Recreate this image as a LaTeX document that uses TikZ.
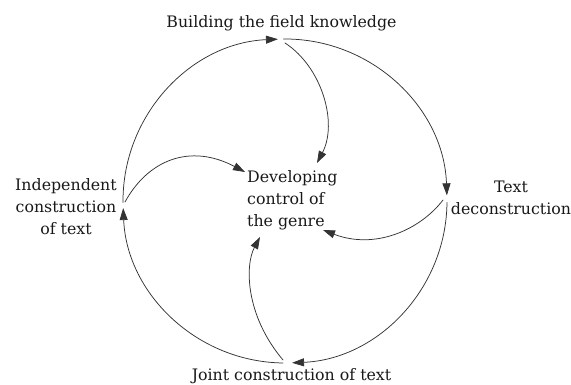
\documentclass[tikz,border=0pt]{standalone}
\usepackage{fontspec}
\setmainfont{DejaVu Serif}
\usetikzlibrary{arrows.meta}
\tikzset{lbl/.style={font=\fontsize{15.8}{22}\selectfont,inner sep=0pt,text=black!90}}

\begin{document}
\begin{tikzpicture}[line cap=round,line join=round,>={Triangle[length=12pt,width=8pt]},x=1pt,y=1pt]
\useasboundingbox (0,0) rectangle (571,385);
\coordinate (c) at (285,184);
\foreach \a/\b in {180.5/92.5,90.5/2,-0.5/-87.5,-90.7/-177.5}
\draw[->,line width=0.75pt,color=black!80] ([shift={(c)}]\a:162) arc[start angle=\a,end angle=\b,radius=162];
\node[lbl,anchor=base] (build) at (281.5,357) {Building the field knowledge};
\node[lbl,anchor=base] (joint) at (291.5,4) {Joint construction of text};
\node[lbl,anchor=base,align=center] (indep) at (66,150) {Independent\\construction\\of text};
\node[lbl,anchor=base,align=center] (decon) at (511,170) {Text\\deconstruction};
\node[lbl,anchor=base west,align=left] (genre) at (247,158) {Developing\\control of\\the genre};
\coordinate (b0) at (285,342);
\coordinate (b1) at (317,222);
\coordinate (i0) at (125,183);
\coordinate (i1) at (245,213);
\coordinate (d0) at (443,185);
\coordinate (d1) at (323,155);
\coordinate (j0) at (283,25);
\coordinate (j1) at (260,148);
\draw[->,line width=0.75pt,color=black!80] (b0) .. controls (322,318) and (338,262) .. (b1);
\draw[->,line width=0.75pt,color=black!80] (i0) .. controls (148,225) and (190,242) .. (i1);
\draw[->,line width=0.75pt,color=black!80] (d0) .. controls (420,155) and (375,135) .. (d1);
\draw[->,line width=0.75pt,color=black!80] (j0) .. controls (245,70) and (245,120) .. (j1);
\end{tikzpicture}
\end{document}
